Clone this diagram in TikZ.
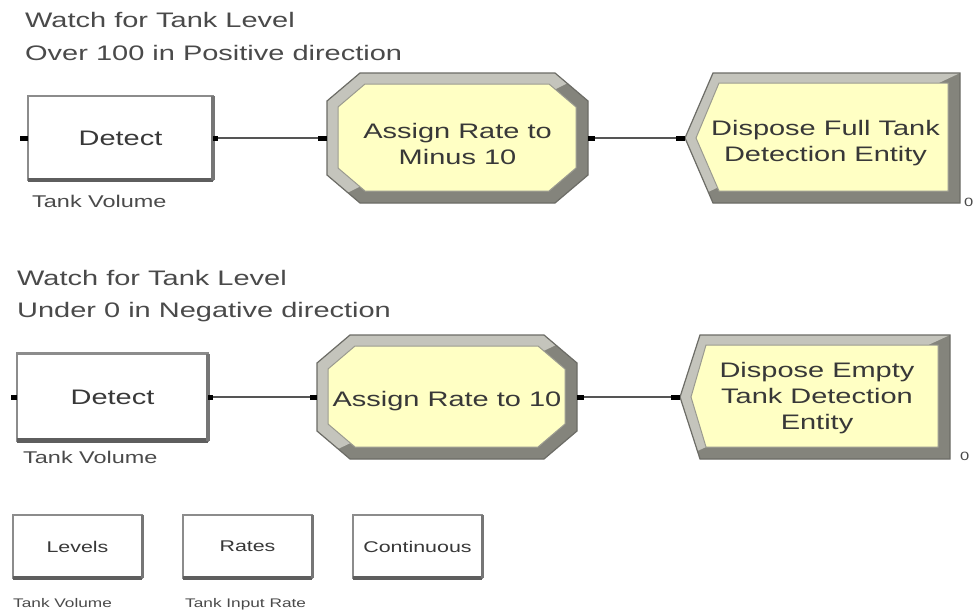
\documentclass[tikz,border=0pt]{standalone}
\usepackage{fontspec}
\setmainfont{Liberation Sans}
\newfontfamily\af[FakeStretch=1.38]{Liberation Sans}
\definecolor{yel}{HTML}{FFFFC4}
\definecolor{bandlight}{HTML}{C4C4BC}
\definecolor{banddark}{HTML}{84847C}
\definecolor{outeredge}{HTML}{6C6C66}
\definecolor{inneredge}{HTML}{9A9A90}
\definecolor{txt}{HTML}{383838}
\definecolor{titlecol}{HTML}{4A4A4A}
\definecolor{conncol}{HTML}{555555}
\definecolor{boxedge}{HTML}{8C8C8C}
\definecolor{boxdark}{HTML}{5E5E5E}

% Assign module: octagon with bevelled band; x1 y1 x2 y2
\newcommand\assignbevel[4]{%
  \fill[banddark] ({#1+33},{#2}) -- ({#3-33},{#2}) -- ({#3},{#2+28}) -- ({#3},{#4-28}) -- ({#3-33},{#4}) -- ({#1+33},{#4}) -- ({#1},{#4-28}) -- ({#1},{#2+28}) -- cycle;
  \begin{scope}
    \clip ({#1},{#4}) -- ({#1},{#2}) -- ({#3},{#2}) -- cycle;
    \fill[bandlight] ({#1+33},{#2}) -- ({#3-33},{#2}) -- ({#3},{#2+28}) -- ({#3},{#4-28}) -- ({#3-33},{#4}) -- ({#1+33},{#4}) -- ({#1},{#4-28}) -- ({#1},{#2+28}) -- cycle;
  \end{scope}
  \filldraw[fill=yel, draw=inneredge, line width=1pt] ({#1+11+27},{#2+11}) -- ({#3-12-27},{#2+11}) -- ({#3-12},{#2+11+23}) -- ({#3-12},{#4-12-23}) -- ({#3-12-27},{#4-12}) -- ({#1+11+27},{#4-12}) -- ({#1+11},{#4-12-23}) -- ({#1+11},{#2+11+23}) -- cycle;
  \draw[outeredge, line width=1.2pt] ({#1+33},{#2}) -- ({#3-33},{#2}) -- ({#3},{#2+28}) -- ({#3},{#4-28}) -- ({#3-33},{#4}) -- ({#1+33},{#4}) -- ({#1},{#4-28}) -- ({#1},{#2+28}) -- cycle;
}
% Dispose module: pentagon pointing left; x1 y1 x2 y2 pointdepth
\newcommand\disposebevel[5]{%
  \fill[banddark] ({#1},{(#2+#4)/2}) -- ({#1+#5},{#2}) -- ({#3},{#2}) -- ({#3},{#4}) -- ({#1+#5},{#4}) -- cycle;
  \begin{scope}
    \clip ({#1},{#4}) -- ({#1},{#2}) -- ({#3},{#2}) -- cycle;
    \fill[bandlight] ({#1},{(#2+#4)/2}) -- ({#1+#5},{#2}) -- ({#3},{#2}) -- ({#3},{#4}) -- ({#1+#5},{#4}) -- cycle;
  \end{scope}
  \filldraw[fill=yel, draw=inneredge, line width=1pt] ({#1+11},{(#2+#4)/2}) -- ({#1+#5+6},{#2+10}) -- ({#3-12},{#2+10}) -- ({#3-12},{#4-12}) -- ({#1+#5+6},{#4-12}) -- cycle;
  \draw[outeredge, line width=1.2pt] ({#1},{(#2+#4)/2}) -- ({#1+#5},{#2}) -- ({#3},{#2}) -- ({#3},{#4}) -- ({#1+#5},{#4}) -- cycle;
}

\begin{document}
\begin{tikzpicture}[x=1pt,y=-1pt,
  plainbox/.style={draw=boxedge, line width=2.5pt, fill=white, inner sep=0pt, outer sep=0pt, text=txt},
  modarea/.style={inner sep=0pt, outer sep=0pt, draw=none},
  modtext/.style={inner sep=0pt, align=center, text=txt, font=\af\fontsize{21}{26}\selectfont},
  connector/.style={draw=conncol, line width=2.5pt},
  portmark/.style={fill=black},
  titletext/.style={anchor=base west, inner sep=0pt, text=titlecol, font=\af\fontsize{21}{26}\selectfont},
  labtext/.style={anchor=base west, inner sep=0pt, text=titlecol, font=\af\fontsize{17}{20}\selectfont},
  smalllab/.style={anchor=base west, inner sep=0pt, text=titlecol, font=\af\fontsize{12.5}{15}\selectfont},
  countertext/.style={anchor=base west, inner sep=0pt, text=titlecol, font=\af\fontsize{12}{14}\selectfont}
]
\useasboundingbox (0,0) rectangle (976,610);
\fill[white] (0,0) rectangle (976,610);

% ---------- Row 1 ----------
\node[titletext] (t1a) at (25,28) {Watch for Tank Level};
\node[titletext] (t1b) at (25,60) {Over 100 in Positive direction};

\node[plainbox, minimum width=185pt, minimum height=84pt, font=\af\fontsize{21}{26}\selectfont] (d1) at (120.5,138) {Detect};
\draw[boxdark, line width=4.5pt] (d1.south west) -- (d1.south east);
\draw[boxdark!85!white, line width=3.5pt] (d1.south east) -- (d1.north east);
\node[labtext] (l1) at (32,207) {Tank Volume};

\assignbevel{327}{73}{588}{203}
\node[modarea, minimum width=261pt, minimum height=130pt] (a1) at (457.5,138) {};
\node[modtext, yshift=-6pt] (a1t) at (a1.center) {Assign Rate to\\Minus 10};

\disposebevel{685}{73}{960}{203}{28}
\node[modarea, minimum width=275pt, minimum height=130pt] (x1) at (822.5,138) {};
\node[modtext, yshift=-5pt] (x1t) at ([xshift=3pt]x1.center) {Dispose Full Tank\\Detection Entity};
\node[countertext] (c1) at (964,206) {0};

\draw[connector] (d1.east) -- (a1.west);
\draw[connector] (a1.east) -- (x1.west);
\fill[portmark] ([shift={(-8,-2.5)}]d1.west) rectangle ++(8,5);
\fill[portmark] ([shift={(0,-2.5)}]d1.east) rectangle ++(5,5);
\fill[portmark] ([shift={(-9,-2.5)}]a1.west) rectangle ++(9,5);
\fill[portmark] ([shift={(0,-2.5)}]a1.east) rectangle ++(7,5);
\fill[portmark] ([shift={(-9,-2.5)}]x1.west) rectangle ++(9,5);

% ---------- Row 2 ----------
\node[titletext] (t2a) at (17,285) {Watch for Tank Level};
\node[titletext] (t2b) at (17,317) {Under 0 in Negative direction};

\node[plainbox, minimum width=191pt, minimum height=87pt, font=\af\fontsize{21}{26}\selectfont] (d2) at (112.5,397) {Detect};
\draw[boxdark, line width=4.5pt] (d2.south west) -- (d2.south east);
\draw[boxdark!85!white, line width=3.5pt] (d2.south east) -- (d2.north east);
\node[labtext] (l2) at (23,463) {Tank Volume};

\assignbevel{317}{335}{577}{459}
\node[modarea, minimum width=260pt, minimum height=124pt] (a2) at (447,397) {};
\node[modtext, yshift=-4pt] (a2t) at (a2.center) {Assign Rate to 10};

\disposebevel{680}{335}{950}{459}{20}
\node[modarea, minimum width=270pt, minimum height=124pt] (x2) at (815,397) {};
\node[modtext, yshift=-1pt] (x2t) at ([xshift=2pt]x2.center) {Dispose Empty\\Tank Detection\\Entity};
\node[countertext] (c2) at (960,460) {0};

\draw[connector] (d2.east) -- (a2.west);
\draw[connector] (a2.east) -- (x2.west);
\fill[portmark] ([shift={(-6,-2.5)}]d2.west) rectangle ++(6,5);
\fill[portmark] ([shift={(0,-2.5)}]d2.east) rectangle ++(5,5);
\fill[portmark] ([shift={(-7,-2.5)}]a2.west) rectangle ++(7,5);
\fill[portmark] ([shift={(0,-2.5)}]a2.east) rectangle ++(7,5);
\fill[portmark] ([shift={(-9,-2.5)}]x2.west) rectangle ++(9,5);

% ---------- Row 3: data modules ----------
\node[plainbox, minimum width=129pt, minimum height=63pt, font=\af\fontsize{15.5}{18}\selectfont] (lev) at (77.5,546.5) {Levels};
\node[plainbox, minimum width=129pt, minimum height=63pt, font=\af\fontsize{15.5}{18}\selectfont] (rat) at (247.5,546.5) {Rates};
\node[plainbox, minimum width=129pt, minimum height=63pt, font=\af\fontsize{15.5}{18}\selectfont] (con) at (417.5,546.5) {Continuous};
\foreach \b in {lev,rat,con}{
  \draw[boxdark, line width=4pt] (\b.south west) -- (\b.south east);
  \draw[boxdark!85!white, line width=3pt] (\b.south east) -- (\b.north east);
}
\node[smalllab] (l3) at (13,607) {Tank Volume};
\node[smalllab] (l4) at (185,607) {Tank Input Rate};
\end{tikzpicture}
\end{document}
